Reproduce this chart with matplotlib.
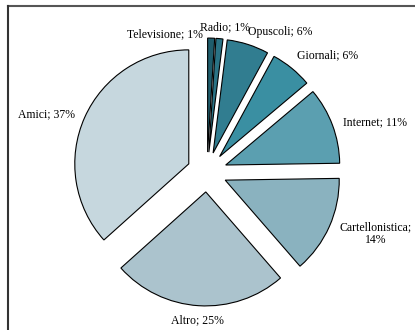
import numpy as np
import matplotlib
matplotlib.use('Agg')
import matplotlib.pyplot as plt
from matplotlib.lines import Line2D

# data
labels = ['Televisione', 'Radio', 'Opuscoli', 'Giornali', 'Internet',
          'Cartellonistica', 'Altro', 'Amici']
values = [1, 1, 6, 6, 11, 14, 25, 37]
colors = ['#1f5d6c', '#2a7385', '#317d90', '#3a8fa2', '#5b9fb0',
          '#8ab2bf', '#abc3cd', '#c6d7de']

# label centres, in pie radii from the pie centre (layout only)
label_pos = [(-0.37, 1.21), (0.16, 1.27), (0.64, 1.23), (1.06, 1.02),
             (1.47, 0.44), (1.48, -0.54), (-0.08, -1.30), (-1.41, 0.51)]

plt.rcParams['font.family'] = 'Liberation Serif'

fig = plt.figure(figsize=(4.15, 3.3), dpi=100)
ax = fig.add_axes([0, 0, 1, 1])

wedges, _ = ax.pie(values, colors=colors, startangle=90, counterclock=False,
                   explode=[0.175] * len(values), radius=1,
                   wedgeprops=dict(edgecolor='black', linewidth=0.8))

# pie() resets the limits, so set the pixel layout afterwards
cx, cy, R = 207, 172, 114
ax.set_xlim(-cx / R, (415 - cx) / R)
ax.set_ylim(-(330 - cy) / R, cy / R)
ax.set_aspect('equal')
ax.axis('off')

for lab, v, (x, y) in zip(labels, values, label_pos):
    txt = f'{lab}; {v}%'
    if lab == 'Cartellonistica':
        txt = f'{lab};\n{v}%'
    ax.text(x, y, txt, ha='center', va='center', fontsize=8.5,
            linespacing=1.15)

# chart frame (only top and left visible in the crop)
fig.add_artist(Line2D([8 / 415, 1], [1 - 5.5 / 330] * 2, color='#555555', lw=1.5))
fig.add_artist(Line2D([8 / 415] * 2, [0, 1 - 5.5 / 330], color='#333333', lw=1.5))

fig.savefig('out.png', dpi=100)
